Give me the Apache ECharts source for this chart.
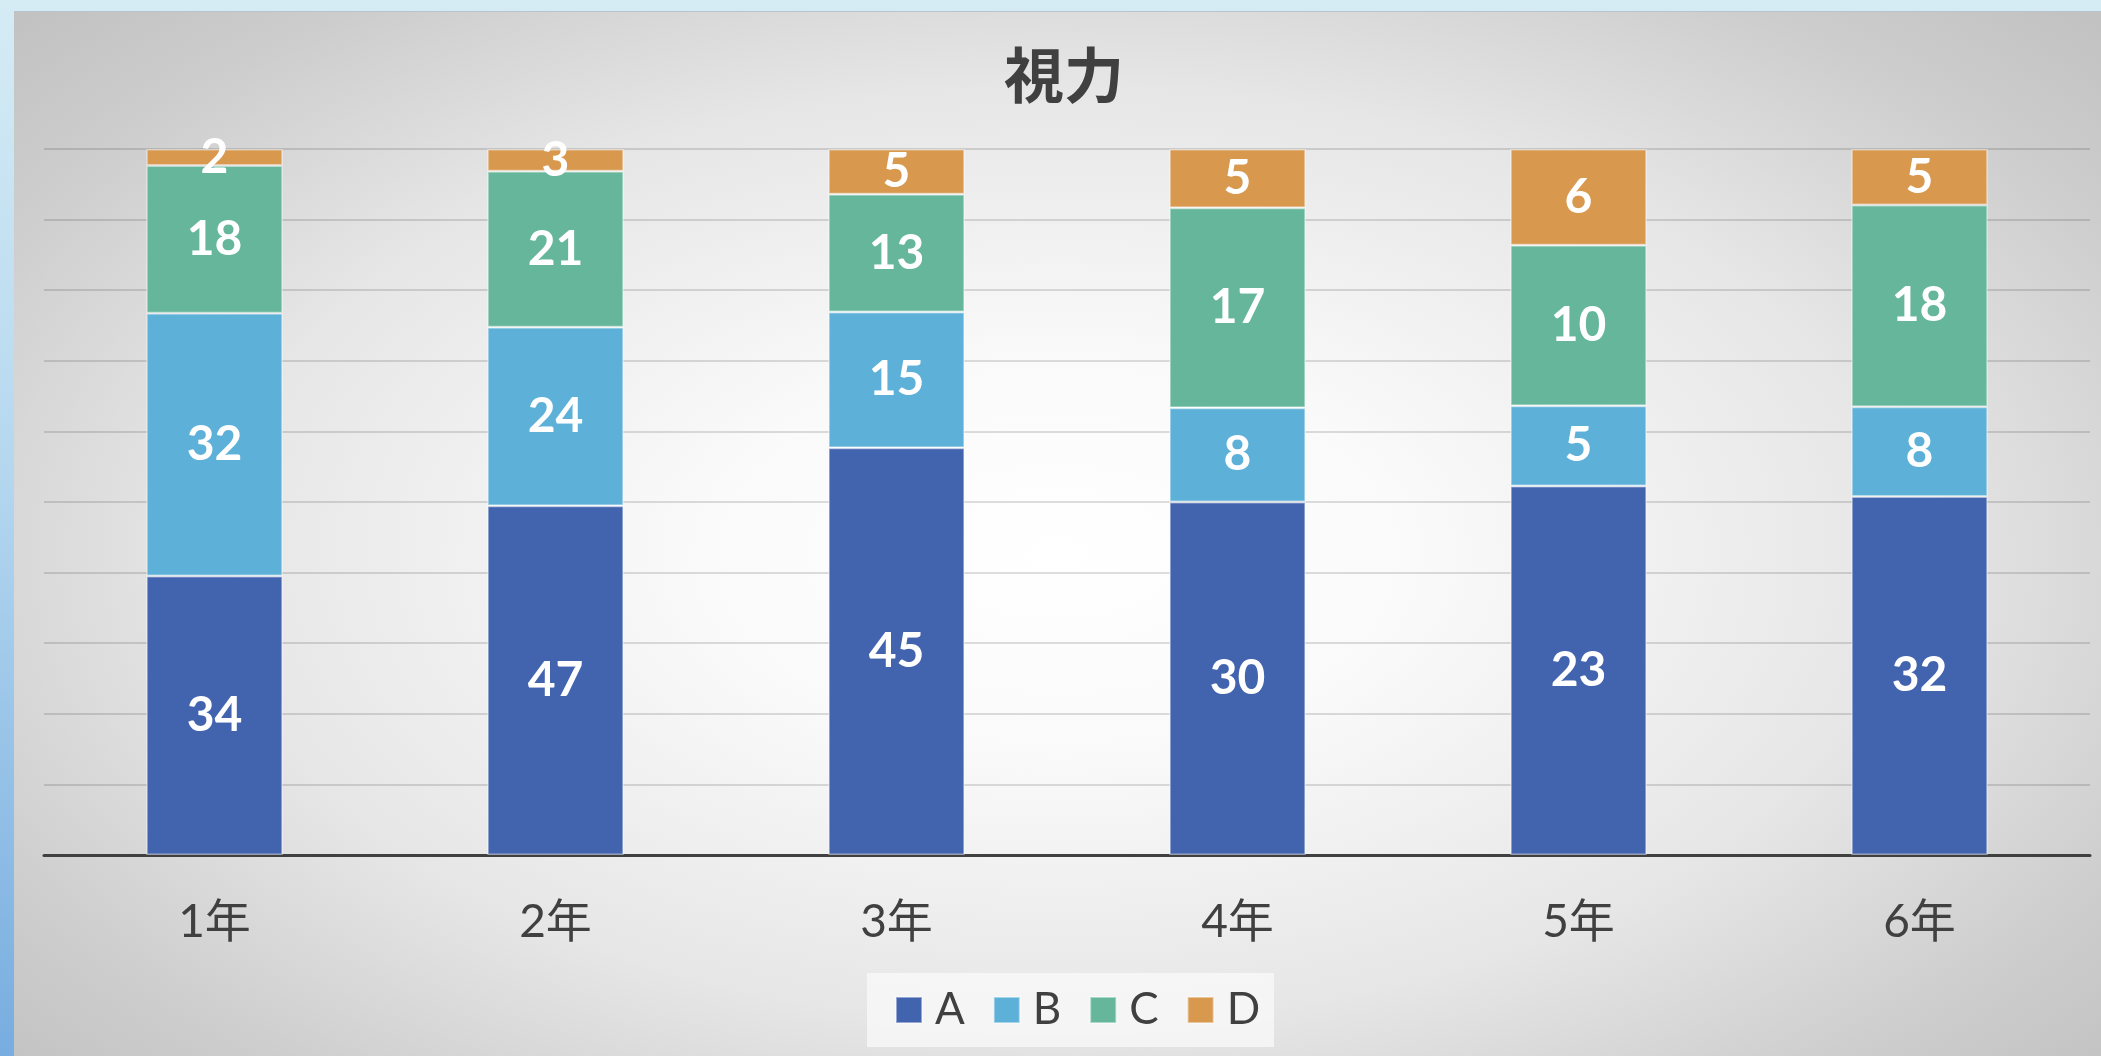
<!DOCTYPE html>
<html><head><meta charset="utf-8">
<script src="https://cdn.jsdelivr.net/npm/echarts@6/dist/echarts.min.js"></script>
<style>
html,body{margin:0;padding:0;width:2101px;height:1056px;overflow:hidden;}
body{background:linear-gradient(180deg,#d5ecf5 0%,#b4d7ef 45%,#78ade0 100%);}
#wrap{position:absolute;left:14px;top:11px;width:2087px;height:1045px;
 border-top:1px solid #b9c3cc;box-sizing:border-box;
 background:radial-gradient(ellipse 68% 75% at 50% 52%,#ffffff 0%,#fafafa 25%,#e6e6e6 60%,#cdcdcd 85%,#c2c2c2 100%);}
#chart{width:2087px;height:1044px;}
</style></head>
<body><div id="wrap"><div id="chart"></div></div>
<script>
const categories = ['1年','2年','3年','4年','5年','6年'];
const seriesNames = ['A','B','C','D'];
const valuesA = [34,47,45,30,23,32];
const valuesB = [32,24,15,8,5,8];
const valuesC = [18,21,13,17,10,18];
const valuesD = [2,3,5,5,6,5];
const colors = ['#4263ae','#5db1d8','#65b69a','#d8994f'];

const raw = [valuesA, valuesB, valuesC, valuesD];
const totals = categories.map((c,i)=>raw.reduce((s,arr)=>s+arr[i],0));

const chart = echarts.init(document.getElementById('chart'), null, {renderer:'canvas'});
const font = 'Lato, "Noto Sans CJK JP", sans-serif';
chart.setOption({
  backgroundColor:'transparent',
  animation:false,
  title:{text:'視力',left:990,top:33,padding:0,
    textStyle:{fontSize:60,fontWeight:'bold',color:'#404040',fontFamily:'"Noto Sans CJK JP", sans-serif'}},
  legend:{data:seriesNames,left:853,top:961,icon:'rect',itemWidth:26,itemHeight:26,itemGap:28,
    padding:[15,14,15,28],backgroundColor:'rgba(250,250,250,0.75)',
    textStyle:{fontSize:44,color:'#404040',fontFamily:font,lineHeight:44,padding:[0,0,0,8]}},
  grid:{left:30,right:11,top:137,bottom:201,containLabel:false},
  xAxis:{type:'category',data:categories,
    axisLine:{lineStyle:{color:'#404040',width:3}},axisTick:{show:false},
    axisLabel:{fontSize:46,color:'#404040',margin:44,fontFamily:font}},
  yAxis:{type:'value',min:0,max:100,interval:10,
    axisLabel:{show:false},axisLine:{show:false},axisTick:{show:false},
    splitLine:{lineStyle:{color:'rgba(0,0,0,0.13)',width:2}}},
  series: raw.map((arr,si)=>({
    name:seriesNames[si],type:'bar',stack:'total',barWidth:'40%',
    itemStyle:{color:colors[si],borderColor:'rgba(255,255,255,0.45)',borderWidth:1.5},
    label:{show:true,position:'inside',color:'#ffffff',fontSize:48,fontWeight:'bold',fontFamily:font,
      formatter:(p)=>String(arr[p.dataIndex])},
    data:arr.map((v,i)=>v/totals[i]*100)
  }))
});
</script></body></html>
